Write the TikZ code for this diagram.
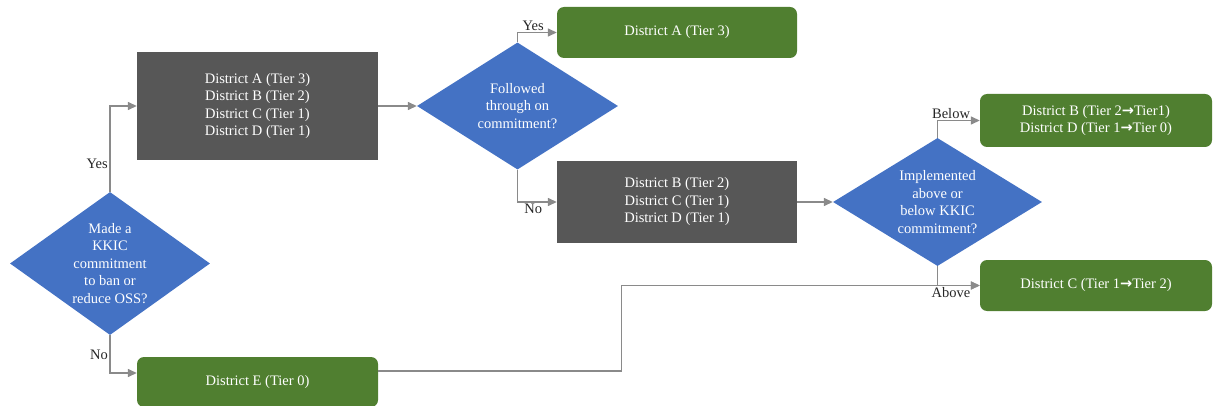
\documentclass[tikz,border=0pt]{standalone}
\usepackage{fontspec}
\setmainfont{Liberation Serif}
\newfontfamily\arrowfont{DejaVu Sans}
\usetikzlibrary{shapes.geometric,arrows.meta}
\definecolor{qblue}{HTML}{4472C4}
\definecolor{boxgrey}{HTML}{575757}
\definecolor{boxgreen}{HTML}{507F30}
\definecolor{linegrey}{HTML}{8A8A8A}
\newcommand{\tierarrow}{{\arrowfont\bfseries →}}
\begin{document}
\begin{tikzpicture}
        [x=1pt, y=-1pt,
        font=\fontsize{14.5}{17.5}\selectfont,
        decision/.style={diamond, fill=qblue, inner sep=0pt},
        qtext/.style={text=white, align=center, inner sep=0pt},
        greybox/.style={rectangle, fill=boxgrey, text=white, align=center, minimum width=241pt},
        greenbox/.style={rectangle, rounded corners=7pt, fill=boxgreen, text=white, align=center},
        conn/.style={draw=linegrey, line width=1.4pt, -{Triangle[length=9pt,width=8pt]}},
        lbl/.style={text=black!85, inner sep=1.5pt}]
        \useasboundingbox (0,0) rectangle (1214,406);
        %Fragen
        \node [decision, minimum width=200pt, minimum height=143pt,
               label={[qtext]center:{Made a\\KKIC\\commitment\\to ban or\\reduce OSS?}}] (q1) at (110,263.5) {};
        \node [decision, minimum width=201pt, minimum height=127pt,
               label={[qtext]center:{Followed\\through on\\commitment?}}] (q2) at (517.5,106) {};
        \node [decision, minimum width=209pt, minimum height=128pt,
               label={[qtext]center:{Implemented\\above or\\below KKIC\\commitment?}}] (q3) at (937.5,202) {};
        %Distrikte
        \node [greybox, minimum height=108pt] (all) at (257.5,106)
              {District A (Tier 3)\\District B (Tier 2)\\District C (Tier 1)\\District D (Tier 1)};
        \node [greybox, minimum width=240pt, minimum height=82pt] (bcd) at (677,202)
              {District B (Tier 2)\\District C (Tier 1)\\District D (Tier 1)};
        \node [greenbox, minimum width=240pt, minimum height=51pt] (da) at (677,32.5) {District A (Tier 3)};
        \node [greenbox, minimum width=232pt, minimum height=53pt] (dbd) at (1096,120.5)
              {District B (Tier 2\tierarrow Tier1)\\District D (Tier 1\tierarrow Tier 0)};
        \node [greenbox, minimum width=232pt, minimum height=51pt] (dc) at (1096,285.5) {District C (Tier 1\tierarrow Tier 2)};
        \node [greenbox, minimum width=241pt, minimum height=50pt] (de) at (257.5,382) {District E (Tier 0)};
        %Verbindungen
        \draw [conn] (q1.north) |- node [lbl, left, pos=0.165] {Yes} (all.west);
        \draw [conn] (q1.south) |- node [lbl, left, pos=0.26] {No} ([yshift=9pt]de.west);
        \draw [conn] (all.east) -- (q2.west);
        \draw [conn] (q2.north) |- node [lbl, above, pos=0.7] {Yes} (da.west);
        \draw [conn] (q2.south) |- node [lbl, below, pos=0.7] {No} (bcd.west);
        \draw [conn] (bcd.east) -- (q3.west);
        \draw [conn] (q3.north) |- node [lbl, above, pos=0.66] {Below} (dbd.west);
        \draw [conn] (q3.south) |- node [lbl, below, pos=0.66] {Above} (dc.west);
        \draw [conn] ([yshift=11pt]de.east) -- ++(243,0) |- (dc.west);
\end{tikzpicture}
\end{document}
